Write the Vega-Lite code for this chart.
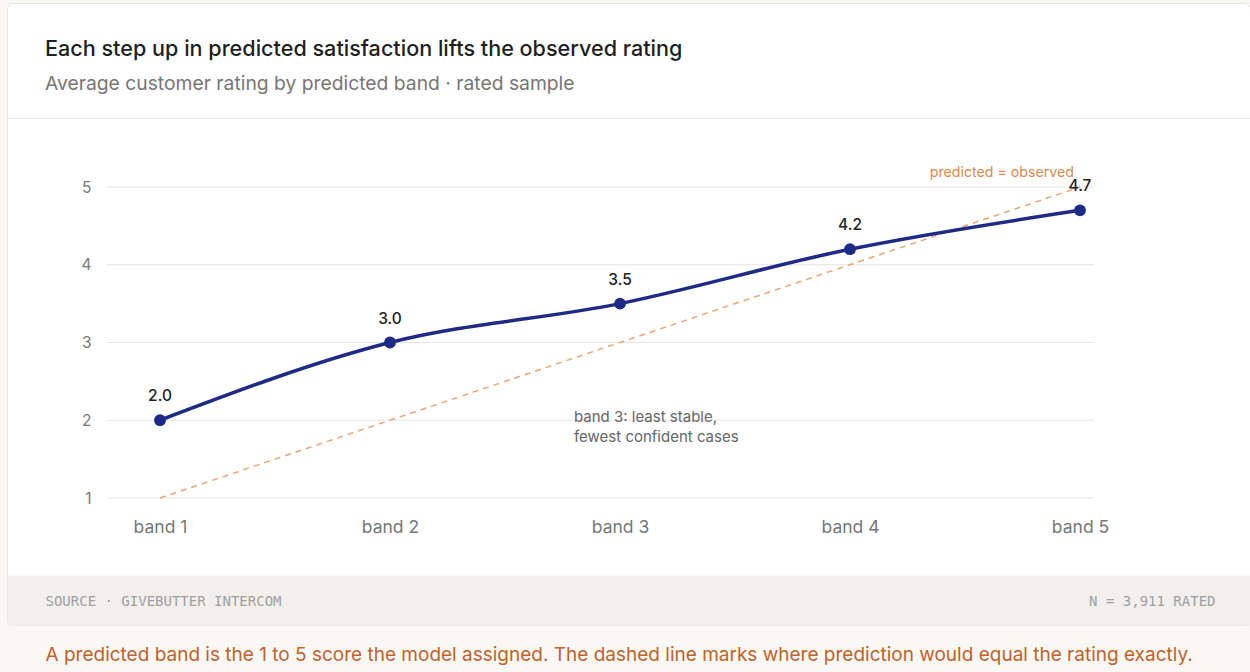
{
  "$schema": "https://vega.github.io/schema/vega-lite/v6.json",
  "width": 1243,
  "height": 622,
  "autosize": {"type": "none"},
  "padding": {"left": 7, "top": 3, "right": 0, "bottom": 47},
  "background": "#f9f8f4",
  "title": {
    "text": "Each step up in predicted satisfaction lifts the observed rating",
    "subtitle": "Average customer rating by predicted band · rated sample",
    "anchor": "start",
    "frame": "group",
    "dx": 38,
    "offset": -91,
    "font": "Inter",
    "fontSize": 21.6,
    "fontWeight": 500,
    "color": "#1f1f1f",
    "subtitleFont": "Inter",
    "subtitleFontSize": 19.3,
    "subtitleFontWeight": 400,
    "subtitleColor": "#767676",
    "subtitlePadding": 14
  },
  "config": {
    "view": {"fill": "#ffffff", "stroke": "#e7e3de", "cornerRadius": 6},
    "font": "Inter"
  },
  "datasets": {
    "observed": [
      {"band": 1, "rating": 2.0},
      {"band": 2, "rating": 3.0},
      {"band": 3, "rating": 3.5},
      {"band": 4, "rating": 4.2},
      {"band": 5, "rating": 4.7}
    ],
    "identity": [
      {"band": 1, "rating": 1},
      {"band": 5, "rating": 5}
    ],
    "gridticks": [
      {"tick": 1}, {"tick": 2}, {"tick": 3}, {"tick": 4}, {"tick": 5}
    ]
  },
  "resolve": {"axis": {"x": "independent", "y": "independent"}},
  "layer": [
    {
      "data": {"name": "gridticks"},
      "mark": {"type": "rule", "color": "#e3e3e3", "strokeWidth": 1},
      "encoding": {
        "y": {
          "field": "tick", "type": "quantitative",
          "scale": {"domain": [-0.63344, 7.36656], "nice": false, "zero": false},
          "axis": {
            "orient": "left", "offset": -100, "zindex": 1,
            "domain": false, "ticks": false, "grid": false,
            "values": [1, 2, 3, 4, 5],
            "labelPadding": 16, "labelFont": "Inter", "labelFontSize": 15.5, "labelColor": "#777777",
            "title": null
          }
        },
        "x": {"datum": 0.7696, "type": "quantitative", "scale": {"domain": [0.33478, 5.73913], "nice": false, "zero": false}, "axis": null},
        "x2": {"datum": 5.0609}
      }
    },
    {
      "data": {"name": "identity"},
      "mark": {"type": "line", "color": "#e9a676", "strokeWidth": 1.5, "strokeDash": [6, 5]},
      "encoding": {
        "x": {
          "field": "band", "type": "quantitative",
          "scale": {"domain": [0.33478, 5.73913], "nice": false, "zero": false},
          "axis": {
            "orient": "top", "offset": -115, "zindex": 2,
            "domain": true, "domainColor": "#ece8e3", "domainWidth": 1,
            "labels": false, "ticks": false, "grid": false,
            "title": "N = 3,911 RATED",
            "titleX": 1208, "titleY": 483, "titleAlign": "right", "titleBaseline": "middle", "titleAngle": 0,
            "titleFont": "DejaVu Sans Mono", "titleFontSize": 14, "titleFontWeight": "normal", "titleColor": "#a0a0a0"
          }
        },
        "y": {
          "field": "rating", "type": "quantitative",
          "scale": {"domain": [-0.63344, 7.36656], "nice": false, "zero": false},
          "axis": {
            "orient": "right", "offset": 0, "zindex": 2,
            "domain": false, "ticks": false, "grid": false, "labels": false,
            "title": "A predicted band is the 1 to 5 score the model assigned. The dashed line marks where prediction would equal the rating exactly.",
            "titleX": -1205, "titleY": 651, "titleAlign": "left", "titleBaseline": "middle", "titleAngle": 0,
            "titleFont": "Inter", "titleFontSize": 19, "titleFontWeight": "normal", "titleColor": "#c0622b"
          }
        }
      }
    },
    {
      "data": {"name": "observed"},
      "mark": {"type": "line", "color": "#1f2a86", "strokeWidth": 3.5, "interpolate": "monotone"},
      "encoding": {
        "x": {
          "field": "band", "type": "quantitative",
          "scale": {"domain": [0.33478, 5.73913], "nice": false, "zero": false},
          "axis": {
            "orient": "bottom", "offset": -25, "zindex": 0,
            "domain": true, "domainWidth": 50, "domainColor": "#f2efec", "domainCap": "butt",
            "ticks": false, "grid": false,
            "values": [1, 2, 3, 4, 5],
            "labelExpr": "'band ' + datum.value",
            "labelPadding": -73, "labelBaseline": "middle", "labelFlush": false, "labelOverlap": false,
            "labelFont": "Inter", "labelFontSize": 17.5, "labelColor": "#777777",
            "title": "SOURCE · GIVEBUTTER INTERCOM",
            "titleX": 38, "titleY": 1, "titleAlign": "left", "titleBaseline": "middle", "titleAngle": 0,
            "titleFont": "DejaVu Sans Mono", "titleFontSize": 14, "titleFontWeight": "normal", "titleColor": "#a0a0a0"
          }
        },
        "y": {"field": "rating", "type": "quantitative", "scale": {"domain": [-0.63344, 7.36656], "nice": false, "zero": false}, "axis": null}
      }
    },
    {
      "data": {"name": "observed"},
      "mark": {"type": "circle", "color": "#1f2a86", "size": 140, "opacity": 1},
      "encoding": {
        "x": {"field": "band", "type": "quantitative", "scale": {"domain": [0.33478, 5.73913], "nice": false, "zero": false}, "axis": null},
        "y": {"field": "rating", "type": "quantitative", "scale": {"domain": [-0.63344, 7.36656], "nice": false, "zero": false}, "axis": null}
      }
    },
    {
      "data": {"name": "observed"},
      "mark": {"type": "text", "font": "Inter", "fontSize": 15.5, "fontWeight": 500, "color": "#222222", "baseline": "alphabetic", "dy": -19},
      "encoding": {
        "x": {"field": "band", "type": "quantitative", "scale": {"domain": [0.33478, 5.73913], "nice": false, "zero": false}, "axis": null},
        "y": {"field": "rating", "type": "quantitative", "scale": {"domain": [-0.63344, 7.36656], "nice": false, "zero": false}, "axis": null},
        "text": {"field": "rating", "type": "quantitative", "format": ".1f"}
      }
    },
    {
      "data": {"name": "identity"},
      "transform": [{"filter": "datum.band == 5"}],
      "mark": {"type": "text", "font": "Inter", "fontSize": 14.2, "color": "#e0874f", "align": "right", "baseline": "alphabetic", "dx": -6, "dy": -10},
      "encoding": {
        "x": {"field": "band", "type": "quantitative", "scale": {"domain": [0.33478, 5.73913], "nice": false, "zero": false}, "axis": null},
        "y": {"field": "rating", "type": "quantitative", "scale": {"domain": [-0.63344, 7.36656], "nice": false, "zero": false}, "axis": null},
        "text": {"value": "predicted = observed"}
      }
    },
    {
      "data": {"values": [{}]},
      "mark": {"type": "text", "font": "Inter", "fontSize": 15, "color": "#666666", "align": "left", "baseline": "middle", "lineHeight": 20},
      "encoding": {
        "x": {"datum": 2.8, "type": "quantitative", "scale": {"domain": [0.33478, 5.73913], "nice": false, "zero": false}, "axis": null},
        "y": {"datum": 2.043, "type": "quantitative", "scale": {"domain": [-0.63344, 7.36656], "nice": false, "zero": false}, "axis": null},
        "text": {"value": ["band 3: least stable,", "fewest confident cases"]}
      }
    }
  ]
}
